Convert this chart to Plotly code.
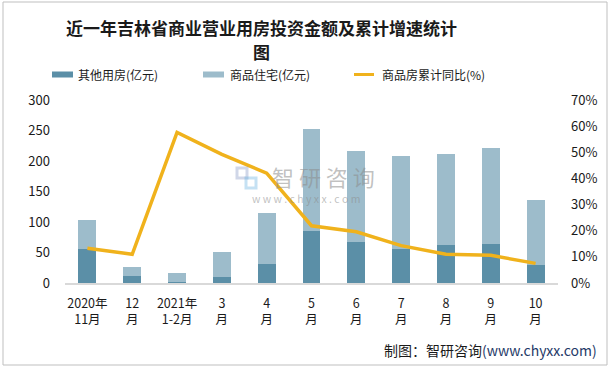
import plotly.graph_objects as go

categories = ["2020年<br>11月", "12<br>月", "2021年<br>1-2月", "3<br>月", "4<br>月", "5<br>月",
              "6<br>月", "7<br>月", "8<br>月", "9<br>月", "10<br>月"]
other_use = [56, 12, 2, 10, 31, 85, 67, 56, 62, 64, 29]
residential = [47, 14, 14, 41, 83, 167, 150, 152, 149, 158, 107]
yoy_growth = [0.133, 0.110, 0.576, 0.492, 0.420, 0.219, 0.196, 0.143, 0.110, 0.106, 0.075]
series_names = ["其他用房(亿元)", "商品住宅(亿元)", "商品房累计同比(%)"]

FONT = "Noto Sans CJK SC"
C_DARK = "#5B8FA7"
C_LIGHT = "#9DBCCB"
C_LINE = "#F0B21C"

# plot area pixel geometry
L, R, T, B = 65, 558, 100, 283
W, H = R - L, B - T

def px(x):
    return (x - L) / W

def py(y):
    return (B - y) / H

fig = go.Figure()
fig.add_trace(go.Bar(x=categories, y=other_use, name=series_names[0],
                     marker=dict(color=C_DARK, line=dict(width=0)), yaxis="y"))
fig.add_trace(go.Bar(x=categories, y=residential, name=series_names[1],
                     marker=dict(color=C_LIGHT, line=dict(width=0)), yaxis="y"))
fig.add_trace(go.Scatter(x=categories, y=yoy_growth, name=series_names[2], mode="lines",
                         line=dict(color=C_LINE, width=3.5), yaxis="y2"))

fig.update_layout(
    width=612, height=369,
    margin=dict(l=L, r=612 - R, t=T, b=369 - B, pad=0, autoexpand=False),
    paper_bgcolor="white", plot_bgcolor="white",
    barmode="stack", bargap=0.6,
    font=dict(family=FONT, size=13, color="#1a1a1a"),
    showlegend=False,
    xaxis=dict(showgrid=False, showline=True, linecolor="#d9d9d9", linewidth=1.5,
               ticks="", tickfont=dict(size=12.5, color="#1a1a1a"), ticklabelstandoff=8,
               fixedrange=True),
    yaxis=dict(range=[0, 300], dtick=50, showgrid=False, zeroline=False, showline=False,
               ticks="", tickfont=dict(size=13, color="#1a1a1a"), ticklabelstandoff=14),
    yaxis2=dict(range=[0, 0.7], dtick=0.1, tickformat=".0%", overlaying="y", side="right",
                showgrid=False, zeroline=False, showline=False, ticks="",
                tickfont=dict(size=13, color="#1a1a1a"), ticklabelstandoff=12),
)

legend_text_x = [76, 228, 380]
annotations = [
    dict(text="<b>近一年吉林省商业营业用房投资金额及累计增速统计</b>",
         x=px(261), y=py(27), xref="paper", yref="paper", xanchor="center", yanchor="middle",
         showarrow=False, font=dict(size=17, color="#1a1a1a", family=FONT)),
    dict(text="<b>图</b>",
         x=px(261), y=py(52), xref="paper", yref="paper", xanchor="center", yanchor="middle",
         showarrow=False, font=dict(size=17, color="#1a1a1a", family=FONT)),
    dict(text="制图：智研咨询<span style='color:#1F3A68'>(www.chyxx.com)</span>",
         x=px(599), y=py(350), xref="paper", yref="paper", xanchor="right", yanchor="middle",
         showarrow=False, font=dict(size=14, color="#1a1a1a", family=FONT)),
    dict(text="智 研 咨 询", x=px(323), y=py(176), xref="paper", yref="paper",
         xanchor="center", yanchor="middle", showarrow=False,
         font=dict(size=22, color="rgba(140,140,140,0.55)", family=FONT)),
    dict(text="w w w . c h y x x . c o m", x=px(306), y=py(198), xref="paper", yref="paper",
         xanchor="center", yanchor="middle", showarrow=False,
         font=dict(size=10.5, color="rgba(140,140,140,0.55)", family=FONT)),
]
for name, tx in zip(series_names, legend_text_x):
    annotations.append(dict(text=name, x=px(tx), y=py(74.5), xref="paper", yref="paper",
                            xanchor="left", yanchor="middle", showarrow=False,
                            font=dict(size=12, color="#1a1a1a", family=FONT)))
fig.update_layout(annotations=annotations)

shapes = [
    dict(type="rect", xref="paper", yref="paper", x0=px(3), x1=px(607), y0=py(365), y1=py(2),
         line=dict(color="#bfbfbf", width=1), fillcolor="rgba(0,0,0,0)", layer="below"),
    # legend keys
    dict(type="rect", xref="paper", yref="paper", x0=px(52), x1=px(73), y0=py(77.5), y1=py(71.5),
         line=dict(width=0), fillcolor=C_DARK),
    dict(type="rect", xref="paper", yref="paper", x0=px(203), x1=px(224), y0=py(77.5), y1=py(71.5),
         line=dict(width=0), fillcolor=C_LIGHT),
    dict(type="line", xref="paper", yref="paper", x0=px(354), x1=px(374), y0=py(74.5), y1=py(74.5),
         line=dict(color=C_LINE, width=3)),
    # watermark logo
    dict(type="rect", xref="paper", yref="paper", x0=px(237), x1=px(247), y0=py(178), y1=py(168),
         line=dict(color="rgba(120,140,190,0.35)", width=3), fillcolor="rgba(0,0,0,0)"),
    dict(type="rect", xref="paper", yref="paper", x0=px(246), x1=px(256), y0=py(188), y1=py(178),
         line=dict(color="rgba(90,170,220,0.35)", width=3), fillcolor="rgba(0,0,0,0)"),
]
fig.update_layout(shapes=shapes)

fig.write_html("out.html", config={"displayModeBar": False},
               post_script="document.body.style.margin='0';document.body.style.overflow='hidden';")
